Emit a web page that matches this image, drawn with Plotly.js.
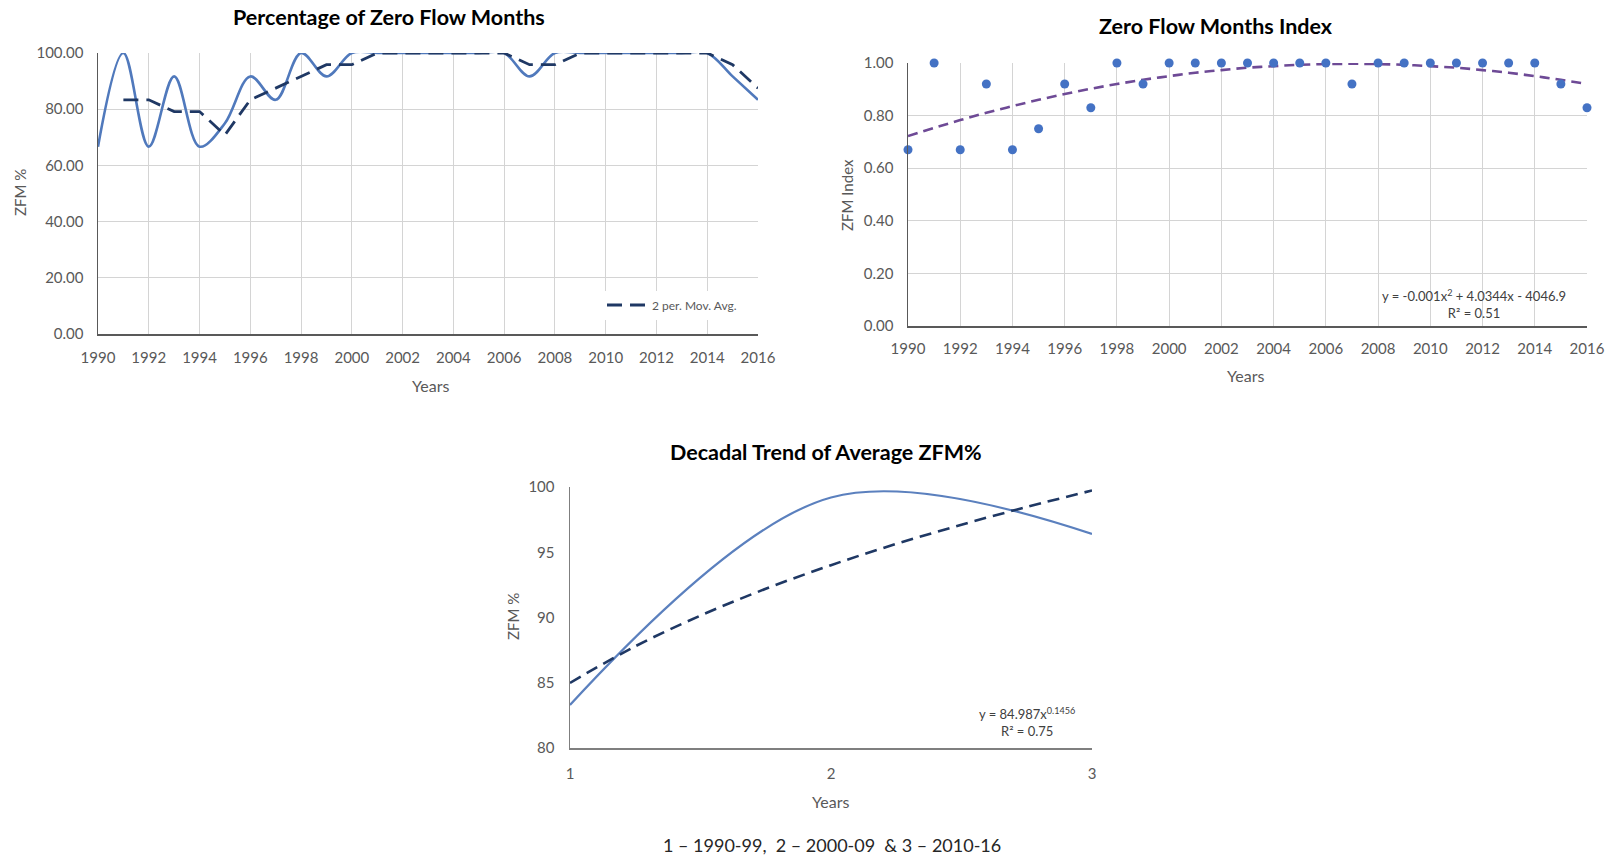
<!DOCTYPE html>
<html>
<head>
<meta charset="utf-8">
<script src="https://cdn.plot.ly/plotly-3.0.1.min.js"></script>
<style>html,body{margin:0;padding:0;background:#fff;}#chart{width:1610px;height:856px;}</style>
</head>
<body>
<div id="chart"></div>
<script>
// ---------- data ----------
const years = [1990,1991,1992,1993,1994,1995,1996,1997,1998,1999,2000,2001,2002,2003,2004,2005,2006,2007,2008,2009,2010,2011,2012,2013,2014,2015,2016];
const zfmPct = [66.67,100,66.67,91.67,66.67,75,91.67,83.33,100,91.67,100,100,100,100,100,100,100,91.67,100,100,100,100,100,100,100,91.67,83.33];
const maYears = [1991,1992,1993,1994,1995,1996,1997,1998,1999,2000,2001,2002,2003,2004,2005,2006,2007,2008,2009,2010,2011,2012,2013,2014,2015,2016];
const maPct = [83.33,83.33,79.17,79.17,70.83,83.33,87.5,91.67,95.83,95.83,100,100,100,100,100,100,95.83,95.83,100,100,100,100,100,100,95.83,87.5];
const zfmIndex = [0.67,1.00,0.67,0.92,0.67,0.75,0.92,0.83,1.00,0.92,1.00,1.00,1.00,1.00,1.00,1.00,1.00,0.92,1.00,1.00,1.00,1.00,1.00,1.00,1.00,0.92,0.83];
const polyTrend = [0.722,0.753,0.783,0.811,0.836,0.860,0.882,0.902,0.920,0.936,0.950,0.963,0.973,0.982,0.988,0.993,0.996,0.997,0.996,0.993,0.988,0.982,0.973,0.963,0.950,0.936,0.920];
const decades = [1,2,3];
const decAvg = [83.3,99.2,96.4];
const powX = [1,1.25,1.5,1.75,2,2.25,2.5,2.75,3];
const powY = [84.99,87.79,90.15,92.20,94.01,95.64,97.11,98.47,99.73];
const yearTicks = [1990,1992,1994,1996,1998,2000,2002,2004,2006,2008,2010,2012,2014,2016];

// ---------- layout helpers ----------
const W = 1610, H = 856;
const px = v => v / W;
const py = v => 1 - v / H;
const FONT = 'Lato, "Liberation Sans", sans-serif';
const tickFont = {family: FONT, size: 15, color: '#595959'};

const traces = [
  {x: years, y: zfmPct, type: 'scatter', mode: 'lines', xaxis: 'x', yaxis: 'y',
   line: {color: '#5079BC', width: 2.6, shape: 'spline', smoothing: 1}, showlegend: false, cliponaxis: false},
  {x: maYears, y: maPct, type: 'scatter', mode: 'lines', xaxis: 'x', yaxis: 'y', name: '2 per. Mov. Avg.',
   line: {color: '#1F3864', width: 2.8, dash: '15px,8px'}, showlegend: true, cliponaxis: false},
  {x: years, y: polyTrend, type: 'scatter', mode: 'lines', xaxis: 'x2', yaxis: 'y2',
   line: {color: '#6E4A96', width: 2.6, dash: '10px,6px', shape: 'spline'}, showlegend: false, cliponaxis: false},
  {x: years, y: zfmIndex, type: 'scatter', mode: 'markers', xaxis: 'x2', yaxis: 'y2',
   marker: {color: '#4472C4', size: 9}, showlegend: false, cliponaxis: false},
  {x: decades, y: decAvg, type: 'scatter', mode: 'lines', xaxis: 'x3', yaxis: 'y3',
   line: {color: '#5B80BE', width: 2.2, shape: 'spline', smoothing: 1}, showlegend: false, cliponaxis: false},
  {x: powX, y: powY, type: 'scatter', mode: 'lines', xaxis: 'x3', yaxis: 'y3',
   line: {color: '#1F3864', width: 2.6, dash: '12px,7px', shape: 'spline'}, showlegend: false, cliponaxis: false}
];

const gridAxis = {
  showgrid: true, gridcolor: '#D4D4D4', gridwidth: 1, zeroline: false,
  showline: true, linecolor: '#595959', linewidth: 1.5, mirror: false,
  ticks: 'outside', tickcolor: 'rgba(0,0,0,0)', tickfont: tickFont, fixedrange: true
};

const layout = {
  width: W, height: H,
  margin: {l: 0, r: 0, t: 0, b: 0},
  paper_bgcolor: '#fff', plot_bgcolor: '#fff',
  font: {family: FONT, color: '#595959'},
  xaxis: Object.assign({}, gridAxis, {domain: [px(98), px(758)], range: [1990, 2016], tickvals: yearTicks, ticklen: 9, anchor: 'y'}),
  yaxis: Object.assign({}, gridAxis, {domain: [py(334), py(53)], range: [0, 100], dtick: 20, tickformat: '.2f', ticklen: 10, anchor: 'x'}),
  xaxis2: Object.assign({}, gridAxis, {domain: [px(908), px(1587)], range: [1990, 2016], tickvals: yearTicks, ticklen: 8, anchor: 'y2'}),
  yaxis2: Object.assign({}, gridAxis, {domain: [py(326), py(63)], range: [0, 1], dtick: 0.2, tickformat: '.2f', ticklen: 10, anchor: 'x2'}),
  xaxis3: {domain: [px(570), px(1092)], range: [1, 3], dtick: 1, anchor: 'y3', showgrid: false, zeroline: false,
    showline: true, linecolor: '#7F7F7F', linewidth: 1.5, ticks: 'outside', ticklen: 11, tickcolor: 'rgba(0,0,0,0)', tickfont: tickFont, fixedrange: true},
  yaxis3: {domain: [py(748), py(487)], range: [80, 100], dtick: 5, anchor: 'x3', showgrid: false, zeroline: false,
    showline: true, linecolor: '#7F7F7F', linewidth: 1.5, ticks: 'outside', ticklen: 11, tickcolor: 'rgba(0,0,0,0)', tickfont: tickFont, fixedrange: true},
  legend: {x: px(742), y: py(305), xanchor: 'right', yanchor: 'middle', bgcolor: '#ffffff',
    font: {family: FONT, size: 12, color: '#595959'}, itemwidth: 40, borderwidth: 0},
  annotations: [
    {text: '<b>Percentage of Zero Flow Months</b>', x: px(389), y: py(17), xref: 'paper', yref: 'paper', showarrow: false,
     font: {family: FONT, size: 21.5, color: '#000'}, xanchor: 'center', yanchor: 'middle'},
    {text: '<b>Zero Flow Months Index</b>', x: px(1216), y: py(26), xref: 'paper', yref: 'paper', showarrow: false,
     font: {family: FONT, size: 21.5, color: '#000'}, xanchor: 'center', yanchor: 'middle'},
    {text: '<b>Decadal Trend of Average ZFM%</b>', x: px(826), y: py(452), xref: 'paper', yref: 'paper', showarrow: false,
     font: {family: FONT, size: 21.5, color: '#000'}, xanchor: 'center', yanchor: 'middle'},
    {text: 'ZFM %', x: px(20), y: py(193), xref: 'paper', yref: 'paper', showarrow: false, textangle: -90,
     font: {family: FONT, size: 15, color: '#595959'}, xanchor: 'center', yanchor: 'middle'},
    {text: 'Years', x: px(430), y: py(385), xref: 'paper', yref: 'paper', showarrow: false,
     font: {family: FONT, size: 16, color: '#595959'}, xanchor: 'center', yanchor: 'middle'},
    {text: 'ZFM Index', x: px(847), y: py(195), xref: 'paper', yref: 'paper', showarrow: false, textangle: -90,
     font: {family: FONT, size: 15, color: '#595959'}, xanchor: 'center', yanchor: 'middle'},
    {text: 'Years', x: px(1245), y: py(375), xref: 'paper', yref: 'paper', showarrow: false,
     font: {family: FONT, size: 16, color: '#595959'}, xanchor: 'center', yanchor: 'middle'},
    {text: 'y = -0.001x<sup>2</sup> + 4.0344x - 4046.9<br>R² = 0.51', x: px(1474), y: py(304), xref: 'paper', yref: 'paper', showarrow: false,
     align: 'center', font: {family: FONT, size: 13, color: '#404040'}, xanchor: 'center', yanchor: 'middle'},
    {text: 'ZFM %', x: px(513), y: py(617), xref: 'paper', yref: 'paper', showarrow: false, textangle: -90,
     font: {family: FONT, size: 15, color: '#595959'}, xanchor: 'center', yanchor: 'middle'},
    {text: 'Years', x: px(830), y: py(801), xref: 'paper', yref: 'paper', showarrow: false,
     font: {family: FONT, size: 16, color: '#595959'}, xanchor: 'center', yanchor: 'middle'},
    {text: 'y = 84.987x<sup>0.1456</sup><br>R² = 0.75', x: px(1027), y: py(722), xref: 'paper', yref: 'paper', showarrow: false,
     align: 'center', font: {family: FONT, size: 13, color: '#404040'}, xanchor: 'center', yanchor: 'middle'},
    {text: '1 \u2013 1990-99,  2 \u2013 2000-09  & 3 \u2013 2010-16', x: px(832), y: py(845), xref: 'paper', yref: 'paper', showarrow: false,
     font: {family: FONT, size: 18, color: '#262626'}, xanchor: 'center', yanchor: 'middle'}
  ]
};

Plotly.newPlot('chart', traces, layout, {displayModeBar: false, staticPlot: true});
</script>
</body>
</html>
